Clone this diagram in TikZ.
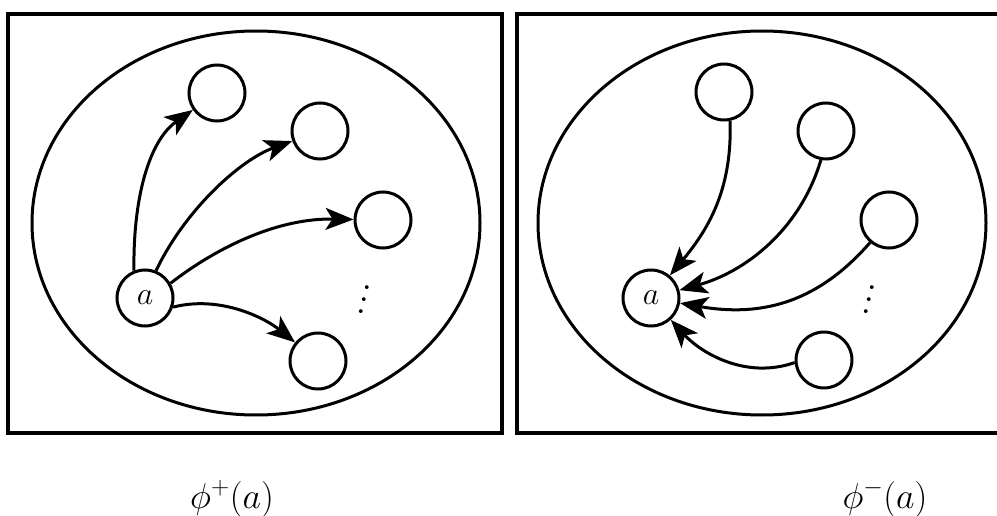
\RequirePackage{fix-cm}
\documentclass[tikz,border=0pt]{standalone}
\usetikzlibrary{arrows.meta}
\newcommand{\mydots}{\vbox{\baselineskip=12pt\hbox{\kern6pt.}\hbox{\kern3pt.}\hbox{.}}}
\begin{document}
\begin{tikzpicture}[x=1pt,y=-1pt,
  frame/.style={line width=3.2pt},
  oval/.style={line width=3pt},
  vtx/.style={circle,draw,line width=3pt,minimum size=56pt,inner sep=0pt,font=\fontsize{32}{34}\selectfont},
  arr/.style={line width=3pt,-{Stealth[length=28pt,width=22pt,inset=7pt]}},
  dts/.style={inner sep=0pt,font=\fontsize{46}{12}\selectfont},
  lbl/.style={anchor=base,font=\fontsize{36}{40}\selectfont}]
\useasboundingbox (0,0) rectangle (997,516);
% left panel
\draw[frame] (8,14) rectangle (502,433);
\draw[oval] (256,223) ellipse [x radius=224, y radius=192];
\node[vtx] (La) at (145,298) {$a$};
\node[vtx] (L1) at (217,93) {};
\node[vtx] (L2) at (320,131) {};
\node[vtx] (L3) at (383,220) {};
\node[vtx] (L4) at (318,361) {};
\node[dts] (Ld) at (364,300) {\mydots};
\draw[arr] (La.112) .. controls (133,195) and (150,140) .. (L1);
\draw[arr] (La.68) .. controls (185,210) and (240,160) .. (L2);
\draw[arr] (La.30) .. controls (220,245) and (280,218) .. (L3);
\draw[arr] (La.-18) .. controls (220,295) and (265,318) .. (L4);
% right panel
\draw[frame] (997,14) -- (517,14) -- (517,433) -- (997,433);
\draw[oval] (762,223) ellipse [x radius=224, y radius=192];
\node[vtx] (Ra) at (651,298) {$a$};
\node[vtx] (R1) at (724,92) {};
\node[vtx] (R2) at (826,131) {};
\node[vtx] (R3) at (889,220) {};
\node[vtx] (R4) at (824,360) {};
\node[dts] (Rd) at (869,300) {\mydots};
\draw[arr] (R1.-78) .. controls (732,185) and (712,225) .. (Ra);
\draw[arr] (R2.-100) .. controls (800,230) and (745,272) .. (Ra);
\draw[arr] (R3.-130) .. controls (820,300) and (765,318) .. (Ra);
\draw[arr] (R4.185) .. controls (745,380) and (700,352) .. (Ra);
% captions
\node[lbl] (Lcap) at (232,508) {$\phi^{+}(a)$};
\node[lbl] (Rcap) at (885,508) {$\phi^{-}(a)$};
\end{tikzpicture}
\end{document}
